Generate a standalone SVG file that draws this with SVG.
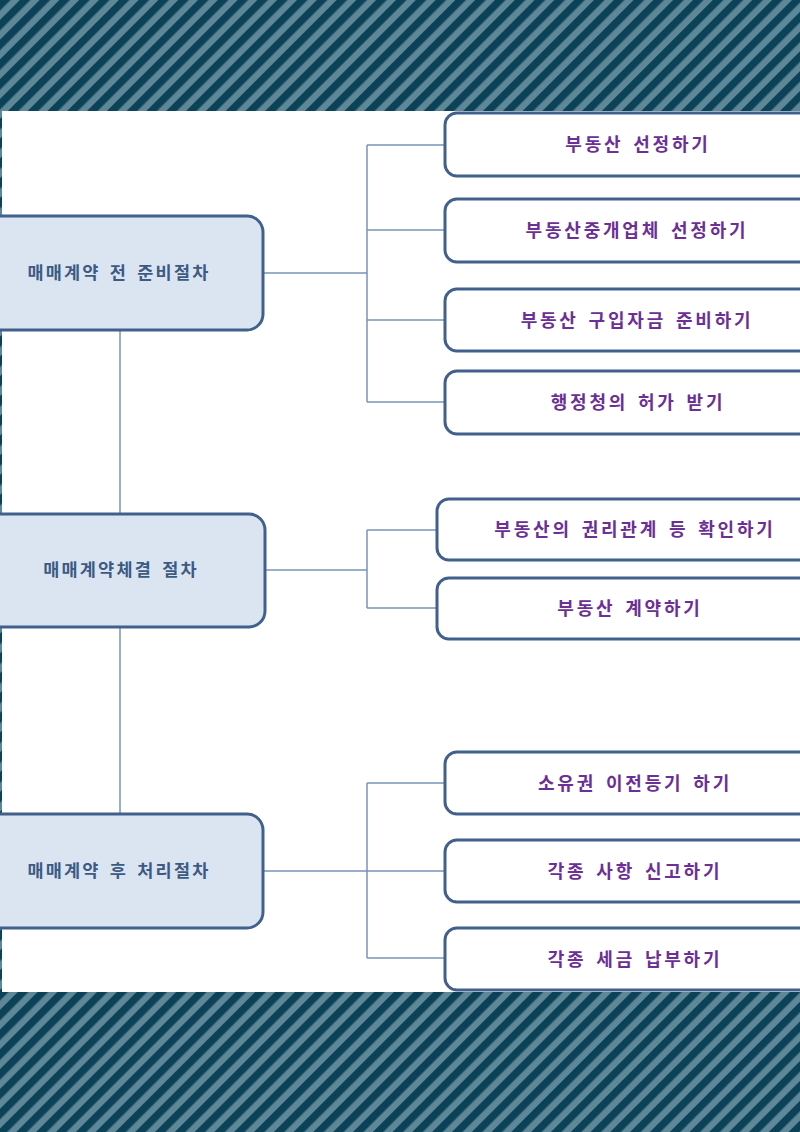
<svg xmlns="http://www.w3.org/2000/svg" width="800" height="1132" viewBox="0 0 800 1132">
<defs>
<pattern id="stripes" width="14" height="14" patternUnits="userSpaceOnUse" patternTransform="rotate(45)">
<rect width="14" height="14" fill="#5e8797"/>
<rect width="7.5" height="14" fill="#0b4258"/>
</pattern>
</defs>
<style>
.main{fill:#dbe5f1;stroke:#41618c;stroke-width:3}
.sub{fill:#ffffff;stroke:#41618c;stroke-width:3}
.conn{fill:none;stroke:#7895b8;stroke-width:1.5}
.mt{font-family:"Noto Sans CJK KR","Noto Sans",sans-serif;font-weight:bold;font-size:17.5px;fill:#3b5a84;letter-spacing:2.2px;word-spacing:3px}
.st{font-family:"Noto Sans CJK KR","Noto Sans",sans-serif;font-weight:bold;font-size:18px;fill:#6b2f96;letter-spacing:2.8px;word-spacing:3px}
</style>
<rect x="0" y="0" width="800" height="1132" fill="url(#stripes)"/>
<rect x="2" y="111" width="798" height="881" fill="#ffffff"/>
<g id="connectors">
<path class="conn" d="M120 330V514M120 627V814"/>
<path class="conn" d="M263 273H367M367 145V402M367 145H445M367 230H445M367 320H445M367 402H445"/>
<path class="conn" d="M265 570H367M367 530V608M367 530H437M367 608H437"/>
<path class="conn" d="M263 871H445M367 783V958M367 783H445M367 958H445"/>
</g>
<g id="n1"><rect class="main" x="-20" y="216" width="283" height="114" rx="16"/><text class="mt" x="119" y="279" text-anchor="middle">매매계약 전 준비절차</text></g>
<g id="n2"><rect class="main" x="-20" y="514" width="285" height="113" rx="16"/><text class="mt" x="121" y="576" text-anchor="middle">매매계약체결 절차</text></g>
<g id="n3"><rect class="main" x="-20" y="814" width="283" height="114" rx="16"/><text class="mt" x="119" y="877" text-anchor="middle">매매계약 후 처리절차</text></g>
<g id="s1"><rect class="sub" x="445" y="113" width="380" height="63" rx="12"/><text class="st" x="638" y="151" text-anchor="middle">부동산 선정하기</text></g>
<g id="s2"><rect class="sub" x="445" y="199" width="380" height="63" rx="12"/><text class="st" x="637" y="237" text-anchor="middle">부동산중개업체 선정하기</text></g>
<g id="s3"><rect class="sub" x="445" y="289" width="380" height="62" rx="12"/><text class="st" x="637" y="327" text-anchor="middle">부동산 구입자금 준비하기</text></g>
<g id="s4"><rect class="sub" x="445" y="371" width="380" height="63" rx="12"/><text class="st" x="638" y="409" text-anchor="middle">행정청의 허가 받기</text></g>
<g id="s5"><rect class="sub" x="437" y="499" width="380" height="61" rx="12"/><text class="st" x="635" y="536" text-anchor="middle">부동산의 권리관계 등 확인하기</text></g>
<g id="s6"><rect class="sub" x="437" y="578" width="380" height="61" rx="12"/><text class="st" x="630" y="615" text-anchor="middle">부동산 계약하기</text></g>
<g id="s7"><rect class="sub" x="445" y="752" width="380" height="62" rx="12"/><text class="st" x="635" y="790" text-anchor="middle">소유권 이전등기 하기</text></g>
<g id="s8"><rect class="sub" x="445" y="840" width="380" height="62" rx="12"/><text class="st" x="635" y="878" text-anchor="middle">각종 사항 신고하기</text></g>
<g id="s9"><rect class="sub" x="445" y="928" width="380" height="62" rx="12"/><text class="st" x="635" y="966" text-anchor="middle">각종 세금 납부하기</text></g>
</svg>
